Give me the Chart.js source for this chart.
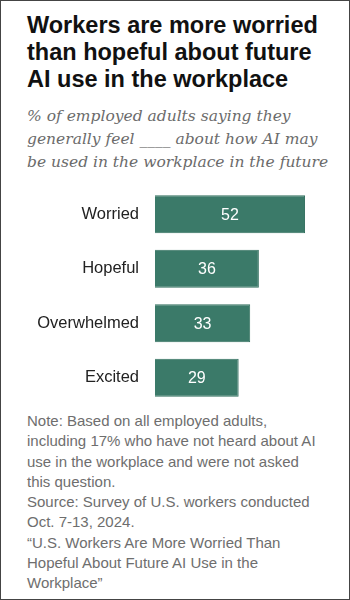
<!DOCTYPE html>
<html>
<head>
<meta charset="utf-8">
<script src="https://cdn.jsdelivr.net/npm/chart.js@4"></script>
<style>
  html, body { margin: 0; padding: 0; background: #fff; }
  #frame {
    position: relative; width: 348px; height: 598px;
    border: 1px solid #444; overflow: hidden; background: #fff;
  }
  #title {
    position: absolute; left: 26px; top: 11px; width: 330px; white-space: nowrap;
    font: bold 23.5px "Liberation Sans", Arial, sans-serif; line-height: 27px; color: #111;
  }
  #subtitle {
    position: absolute; left: 26px; top: 104px; width: 330px; white-space: nowrap;
    font: italic 15.5px "DejaVu Serif", Georgia, serif; line-height: 23px; color: #6b6b6b;
  }
  #chartBox { position: absolute; left: 0; top: 186px; width: 330px; height: 218px; }
  #chartBox canvas { display: block; }
  #notes {
    position: absolute; left: 26px; top: 410px; width: 330px; white-space: nowrap;
    font: 15px "Liberation Sans", Arial, sans-serif; line-height: 20.3px; color: #6e6e6e;
  }
</style>
</head>
<body>
<div id="frame">
  <div id="title">Workers are more worried<br>than hopeful about future<br>AI use in the workplace</div>
  <div id="subtitle">% of employed adults saying they<br>generally feel ____ about how AI may<br>be used in the workplace in the future</div>
  <div id="chartBox"><canvas id="myChart" width="330" height="218"></canvas></div>
  <div id="notes">Note: Based on all employed adults,<br>including 17% who have not heard about AI<br>use in the workplace and were not asked<br>this question.<br>Source: Survey of U.S. workers conducted<br>Oct. 7-13, 2024.<br>“U.S. Workers Are More Worried Than<br>Hopeful About Future AI Use in the<br>Workplace”</div>
</div>
<script>
    // chart values
    const feelings = ['Worried', 'Hopeful', 'Overwhelmed', 'Excited'];
    const percents = [52, 36, 33, 29];

    // write the value in the middle of each bar
    const barValues = {
      id: 'barValues',
      afterDatasetsDraw(chart) {
        const c = chart.ctx;
        const meta = chart.getDatasetMeta(0);
        c.save();
        c.fillStyle = '#fff';
        c.font = '16px "Liberation Sans", Arial, sans-serif';
        c.textAlign = 'center';
        c.textBaseline = 'middle';
        meta.data.forEach(function(bar, i) {
          c.fillText(percents[i], (bar.base + bar.x) / 2, bar.y + 1);
        });
        c.restore();
      }
    };

    const ctx = document.getElementById('myChart');
    new Chart(ctx, {
      type: 'bar',
      data: {
        labels: feelings,
        datasets: [{
          data: percents,
          backgroundColor: '#3b7a69',
          borderColor: '#33705f',
          borderWidth: 1,
          barPercentage: 0.7,
          categoryPercentage: 1.0
        }]
      },
      options: {
        indexAxis: 'y',
        responsive: false,
        animation: false,
        layout: { padding: 0 },
        plugins: { legend: { display: false }, tooltip: { enabled: false } },
        scales: {
          x: { display: false, min: 0, max: 61 },
          y: {
            grid: { display: false, drawTicks: false },
            border: { display: false },
            ticks: {
              padding: 16,
              color: '#222',
              font: { family: '"Liberation Sans", Arial, sans-serif', size: 16.5 }
            },
            afterFit: function(scale) {
              scale.width = 154;
              // tick padding would otherwise squeeze the bars vertically
              scale.paddingTop = 0;
              scale.paddingBottom = 0;
            }
          }
        }
      },
      plugins: [barValues]
    });
</script>
</body>
</html>
